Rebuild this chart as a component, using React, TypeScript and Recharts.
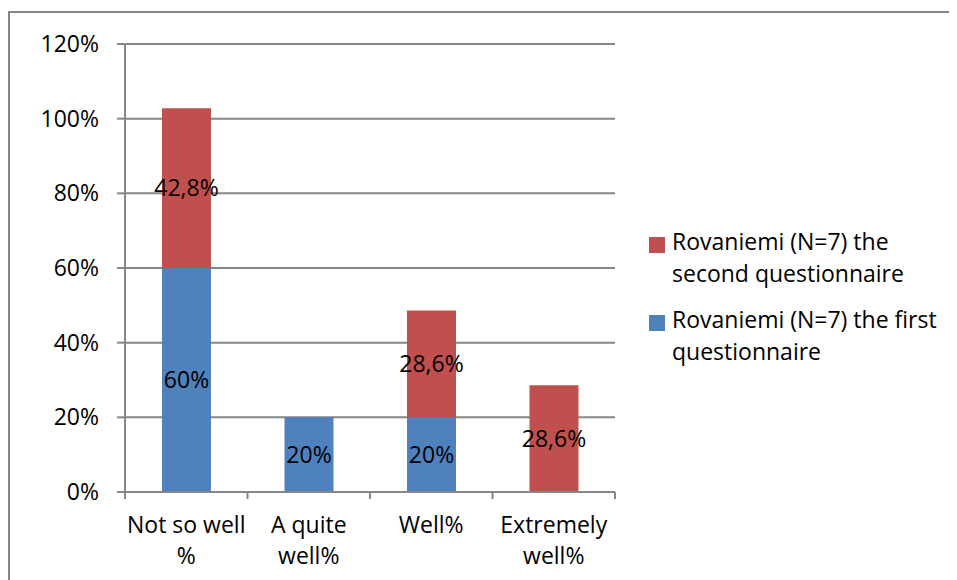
import { BarChart, Bar, XAxis, YAxis, CartesianGrid, Legend, LabelList } from "recharts";

const categories = ["Not so well %", "A quite well%", "Well%", "Extremely well%"];
const tickLines = [["Not so well", "%"], ["A quite", "well%"], ["Well%"], ["Extremely", "well%"]];
const firstQuestionnaire = [0.6, 0.2, 0.2, 0];
const secondQuestionnaire = [0.428, 0, 0.286, 0.286];
const yTicks = [0, 0.2, 0.4, 0.6, 0.8, 1, 1.2];

const firstName = "Rovaniemi (N=7) the first questionnaire";
const secondName = "Rovaniemi (N=7) the second questionnaire";
const legendLines: Record<string, string[]> = {
  [firstName]: ["Rovaniemi (N=7) the first", "questionnaire"],
  [secondName]: ["Rovaniemi (N=7) the", "second questionnaire"],
};

const data = categories.map((c, i) => ({
  name: c,
  first: firstQuestionnaire[i],
  second: secondQuestionnaire[i],
}));

const FONT = "'Open Sans', sans-serif";
const FS = 23;
const GRID = "#868686";
const BAND = 490 / categories.length;
const LEGEND_W = 300;

const pct = (v: number) => {
  if (!v) return "";
  const p = Math.round(v * 1000) / 10;
  return String(p).replace(".", ",") + "%";
};

function CategoryTick(props: any) {
  const { x, y, index, payload } = props;
  const lines = tickLines[index] ?? [payload.value];
  const last = index === categories.length - 1;
  return (
    <g>
      <line x1={x - BAND / 2} x2={x - BAND / 2} y1={y} y2={y + 7} stroke={GRID} strokeWidth={2} />
      {last && <line x1={x + BAND / 2} x2={x + BAND / 2} y1={y} y2={y + 7} stroke={GRID} strokeWidth={2} />}
      <text x={x} y={y} textAnchor="middle" fontFamily={FONT} fontSize={FS} fill="#000">
        {lines.map((l, i) => (
          <tspan key={i} x={x} y={y + 35 + i * 31} dominantBaseline="middle">
            {l}
          </tspan>
        ))}
      </text>
    </g>
  );
}

function LegendContent(props: any) {
  const items = [...(props.payload ?? [])].reverse();
  return (
    <div style={{ fontFamily: FONT, fontSize: FS, color: "#000" }}>
      {items.map((it: any) => (
        <div key={it.value} style={{ display: "flex", alignItems: "flex-start", marginBottom: 22 }}>
          <div style={{ width: 16, height: 16, background: it.color, marginTop: 4, marginRight: 7, flexShrink: 0 }} />
          <div style={{ lineHeight: "32px", marginTop: -8 }}>
            {(legendLines[it.value] ?? [it.value]).map((l: string) => (
              <div key={l}>{l}</div>
            ))}
          </div>
        </div>
      ))}
    </div>
  );
}

export default function App() {
  return (
    <div style={{ position: "relative", width: 957, height: 580, margin: "-8px 0 0 -8px", overflow: "hidden", background: "#fff" }}>
      <div
        style={{
          position: "absolute",
          left: 8,
          top: 11,
          width: 1000,
          height: 1000,
          borderLeft: `2px solid ${GRID}`,
          borderTop: `2px solid ${GRID}`,
        }}
      />
      <div style={{ position: "absolute", left: 0, top: 0 }}>
        <BarChart width={957} height={580} data={data} margin={{ top: 44, right: 342 - LEGEND_W, bottom: 0, left: 0 }}>
          <CartesianGrid vertical={false} stroke={GRID} strokeWidth={2} />
          <YAxis
            width={125}
            domain={[0, 1.2]}
            ticks={yTicks}
            tickFormatter={(v: number) => `${Math.round(v * 100)}%`}
            tick={{ fontFamily: FONT, fontSize: FS, fill: "#000" }}
            tickSize={8}
            tickMargin={18}
            stroke={GRID}
            strokeWidth={2}
            tickLine={{ stroke: GRID, strokeWidth: 2 }}
          />
          <XAxis
            dataKey="name"
            height={88}
            interval={0}
            tickLine={false}
            tickSize={0}
            tickMargin={0}
            tick={<CategoryTick />}
            stroke={GRID}
            strokeWidth={2}
          />
          <Legend
            layout="vertical"
            verticalAlign="top"
            align="right"
            content={<LegendContent />}
            wrapperStyle={{ left: 649, top: 233, width: LEGEND_W }}
          />
          <Bar dataKey="first" name={firstName} stackId="a" fill="#4F81BD" barSize={49} isAnimationActive={false}>
            <LabelList dataKey="first" position="center" formatter={pct} fill="#000" fontFamily={FONT} fontSize={FS} />
          </Bar>
          <Bar dataKey="second" name={secondName} stackId="a" fill="#C0504D" barSize={49} isAnimationActive={false}>
            <LabelList dataKey="second" position="center" formatter={pct} fill="#000" fontFamily={FONT} fontSize={FS} />
          </Bar>
        </BarChart>
      </div>
    </div>
  );
}
